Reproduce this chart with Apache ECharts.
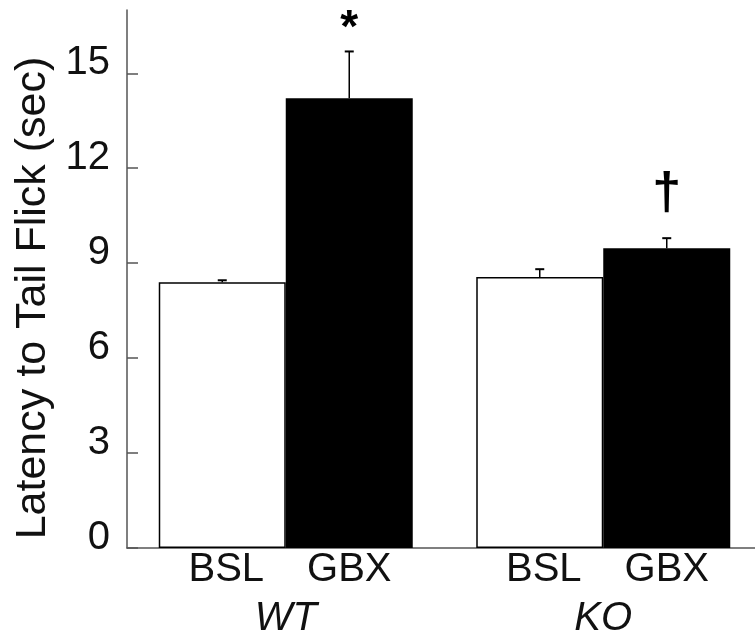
<!DOCTYPE html>
<html>
<head>
<meta charset="utf-8">
<script src="https://cdn.jsdelivr.net/npm/echarts@6/dist/echarts.min.js"></script>
<style>
  html, body { margin: 0; background: #fff; }
  #chart { width: 755px; height: 638px; }
</style>
</head>
<body>
<div id="chart"></div>
<script>
// values
const groups = ['WT', 'KO'];
const bslValues = [8.40, 8.56];
const gbxValues = [14.21, 9.47];
const bslErrors = [0.06, 0.25];
const gbxErrors = [1.48, 0.32];
const gbxMarks = ['*', '\u2020'];
const yTicks = [0, 3, 6, 9, 12, 15];

const font = 'Liberation Sans, Arial, sans-serif';
const chart = echarts.init(document.getElementById('chart'));

// glyph tweaks for the significance marks
const markStyle = {
    '*': { size: 46, weight: 'bold', dy: 1 },
    '\u2020': { size: 52, weight: 'bold', dy: -18 }
};

// upward error bar (+ optional mark) over a bar, side -1 = left bar, +1 = right bar
function errorSeries(name, values, errors, side, marks) {
    return {
        type: 'custom',
        name: name,
        z: 5,
        data: values.map((v, i) => [i, v, errors[i]]),
        renderItem: function (params, api) {
            const i = api.value(0);
            const band = api.size([1, 0])[0];
            const top = api.coord([i, api.value(1)]);
            const hi = api.coord([i, api.value(1) + api.value(2)]);
            const x = top[0] + side * band * 0.2;
            const children = [
                { type: 'line', shape: { x1: x, y1: top[1], x2: x, y2: hi[1] },
                  style: { stroke: '#000', lineWidth: 1.5 } },
                { type: 'line', shape: { x1: x - 4.5, y1: hi[1], x2: x + 4.5, y2: hi[1] },
                  style: { stroke: '#000', lineWidth: 2 } }
            ];
            const m = marks ? marks[params.dataIndex] : '';
            if (m) {
                const s = markStyle[m];
                children.push({
                    type: 'text',
                    style: {
                        x: x, y: hi[1] + s.dy, text: m,
                        align: 'center', verticalAlign: 'bottom',
                        font: s.weight + ' ' + s.size + 'px ' + font,
                        fill: '#000'
                    }
                });
            }
            return { type: 'group', children: children };
        }
    };
}

const option = {
    animation: false,
    backgroundColor: '#fff',
    grid: { left: 127, top: 10, width: 635, height: 538, outerBoundsMode: 'none', containLabel: false },
    xAxis: {
        type: 'category',
        data: groups,
        axisLine: { lineStyle: { color: '#555', width: 1.5 } },
        axisTick: { show: false },
        axisLabel: { fontFamily: font, fontSize: 40, fontStyle: 'italic', color: '#111', margin: 51 }
    },
    yAxis: {
        type: 'value',
        min: 0,
        max: 17,
        interval: 3,
        name: 'Latency to Tail Flick (sec)',
        nameLocation: 'middle',
        nameGap: 70,
        nameTextStyle: { fontFamily: font, fontSize: 43, color: '#111', padding: [0, 38, 0, 0] },
        axisLine: { show: true, lineStyle: { color: '#555', width: 1.5 } },
        axisTick: { show: true, inside: true, length: 11, customValues: yTicks,
                    lineStyle: { color: '#555', width: 1.5 } },
        axisLabel: { fontFamily: font, fontSize: 40, color: '#111', margin: 17,
                     verticalAlign: 'bottom', lineHeight: 20, customValues: yTicks },
        splitLine: { show: false }
    },
    series: [
        {
            type: 'bar', name: 'BSL', data: bslValues,
            barGap: '0%', barCategoryGap: '20%',
            itemStyle: { color: '#fff', borderColor: '#000', borderWidth: 1.5 },
            label: { show: true, position: 'bottom', distance: 2, offset: [4, 0], formatter: 'BSL',
                     fontFamily: font, fontSize: 40, color: '#111' }
        },
        {
            type: 'bar', name: 'GBX', data: gbxValues,
            barGap: '0%', barCategoryGap: '20%',
            itemStyle: { color: '#000' },
            label: { show: true, position: 'bottom', distance: 2, formatter: 'GBX',
                     fontFamily: font, fontSize: 40, color: '#111' }
        },
        errorSeries('BSL err', bslValues, bslErrors, -1, null),
        errorSeries('GBX err', gbxValues, gbxErrors, 1, gbxMarks)
    ]
};

chart.setOption(option);
window.addEventListener('resize', () => chart.resize());
</script>
</body>
</html>
